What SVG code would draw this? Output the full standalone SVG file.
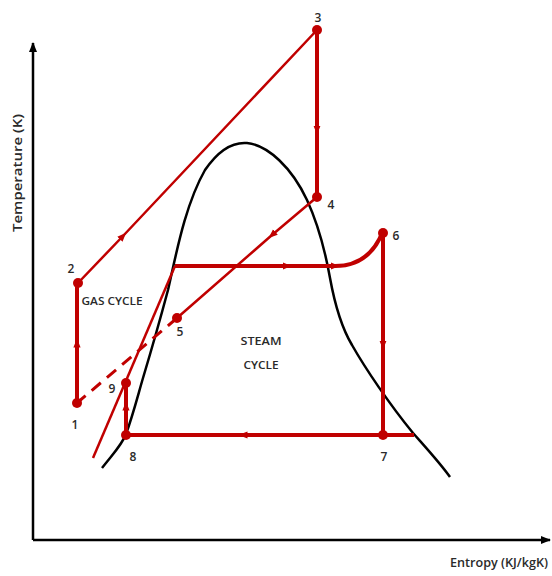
<svg xmlns="http://www.w3.org/2000/svg" width="552" height="576" viewBox="0 0 552 576">
<style>
.lbl{font-family:"Open Sans","Liberation Sans",Arial,sans-serif;font-weight:600;font-size:12px;fill:#2a2a2a;text-anchor:middle}
.cyc{font-family:"Open Sans","Liberation Sans",Arial,sans-serif;font-weight:600;font-size:11px;fill:#2a2a2a;text-anchor:middle}
.ax{font-family:"Open Sans","Liberation Sans",Arial,sans-serif;font-weight:600;font-size:12px;fill:#2a2a2a}
.thick{fill:none;stroke:#c00000;stroke-width:4}
.thin{fill:none;stroke:#c00000;stroke-width:2.5}
.dot{fill:#c00000}
</style>
<defs>
<marker id="mid" viewBox="0 0 10 10" refX="5" refY="5" markerWidth="9" markerHeight="9" markerUnits="userSpaceOnUse" orient="auto">
<path d="M0,1 L10,5 L0,9 z" fill="#c00000"/>
</marker>
<marker id="axarrow" viewBox="0 0 10 10" refX="9" refY="5" markerWidth="10" markerHeight="10" markerUnits="userSpaceOnUse" orient="auto">
<path d="M0,1 L10,5 L0,9 z" fill="#000"/>
</marker>
</defs>
<rect width="552" height="576" fill="#fff"/>
<g id="axes">
<path d="M33,540 L33,43" stroke="#000" stroke-width="2.5" fill="none" marker-end="url(#axarrow)"/>
<path d="M33,540 L550,540" stroke="#000" stroke-width="2.5" fill="none" marker-end="url(#axarrow)"/>
<text class="ax" transform="translate(22,173) rotate(-90)" text-anchor="middle" textLength="118" lengthAdjust="spacingAndGlyphs">Temperature (K)</text>
<text class="ax" x="548" y="567" text-anchor="end" textLength="98" lengthAdjust="spacingAndGlyphs">Entropy (KJ/kgK)</text>
</g>
<g id="dome">
<path d="M102,468 C112,455 122,445 126,434 C133,415 138,395 143,378 C152,348 160,320 168,290 C176,255 185,205 205,170 C220,148 235,142 247,143 C268,145 292,168 307,200 C318,224 325,250 330,278 C334,300 340,325 352,345 C365,368 390,405 413,433 C428,450 440,463 450,477" fill="none" stroke="#000" stroke-width="2.5"/>
</g>
<g id="connectors">
<path class="thick" d="M77,403 L77,343 L77,283" marker-mid="url(#mid)"/>
<path class="thin" d="M78,283 L123,236 L317,30" marker-mid="url(#mid)"/>
<path class="thick" d="M317,30 L317,130 L317,197" marker-mid="url(#mid)"/>
<path class="thin" d="M317,197 L272,235 L177,318" marker-mid="url(#mid)"/>
<path d="M177,318 L77,403" fill="none" stroke="#c00000" stroke-width="3" stroke-dasharray="12,8"/>
<path class="thick" d="M175,266 L287,266 L335,266 C360,266 375,252 383,231" marker-mid="url(#mid)"/>
<path class="thick" d="M383,231 L383,345 L383,435" marker-mid="url(#mid)"/>
<path class="thick" d="M414,435 L243,435 L126,435" marker-mid="url(#mid)"/>
<path class="thick" d="M126,435 L126,406 L126,383" marker-mid="url(#mid)"/>
<path class="thin" d="M93,458 L175,266"/>
</g>
<g id="p1"><circle class="dot" cx="77" cy="403" r="5"/><text class="lbl" x="75" y="429">1</text></g>
<g id="p2"><circle class="dot" cx="78" cy="283" r="5"/><text class="lbl" x="71" y="273">2</text></g>
<g id="p3"><circle class="dot" cx="317" cy="30" r="5"/><text class="lbl" x="318" y="22">3</text></g>
<g id="p4"><circle class="dot" cx="317" cy="197" r="5"/><text class="lbl" x="331" y="209">4</text></g>
<g id="p5"><circle class="dot" cx="177" cy="318" r="5"/><text class="lbl" x="180" y="336">5</text></g>
<g id="p6"><circle class="dot" cx="383" cy="233" r="5"/><text class="lbl" x="396" y="240">6</text></g>
<g id="p7"><circle class="dot" cx="383" cy="435" r="5"/><text class="lbl" x="384" y="461">7</text></g>
<g id="p8"><circle class="dot" cx="126" cy="435" r="5"/><text class="lbl" x="133" y="461">8</text></g>
<g id="p9"><circle class="dot" cx="126" cy="383" r="5"/><text class="lbl" x="112" y="393">9</text></g>
<g id="labels">
<text class="cyc" x="112" y="305" textLength="61" lengthAdjust="spacingAndGlyphs">GAS CYCLE</text>
<text class="cyc" x="261" y="345" textLength="41" lengthAdjust="spacingAndGlyphs">STEAM</text>
<text class="cyc" x="261" y="369" textLength="35" lengthAdjust="spacingAndGlyphs">CYCLE</text>
</g>
</svg>
